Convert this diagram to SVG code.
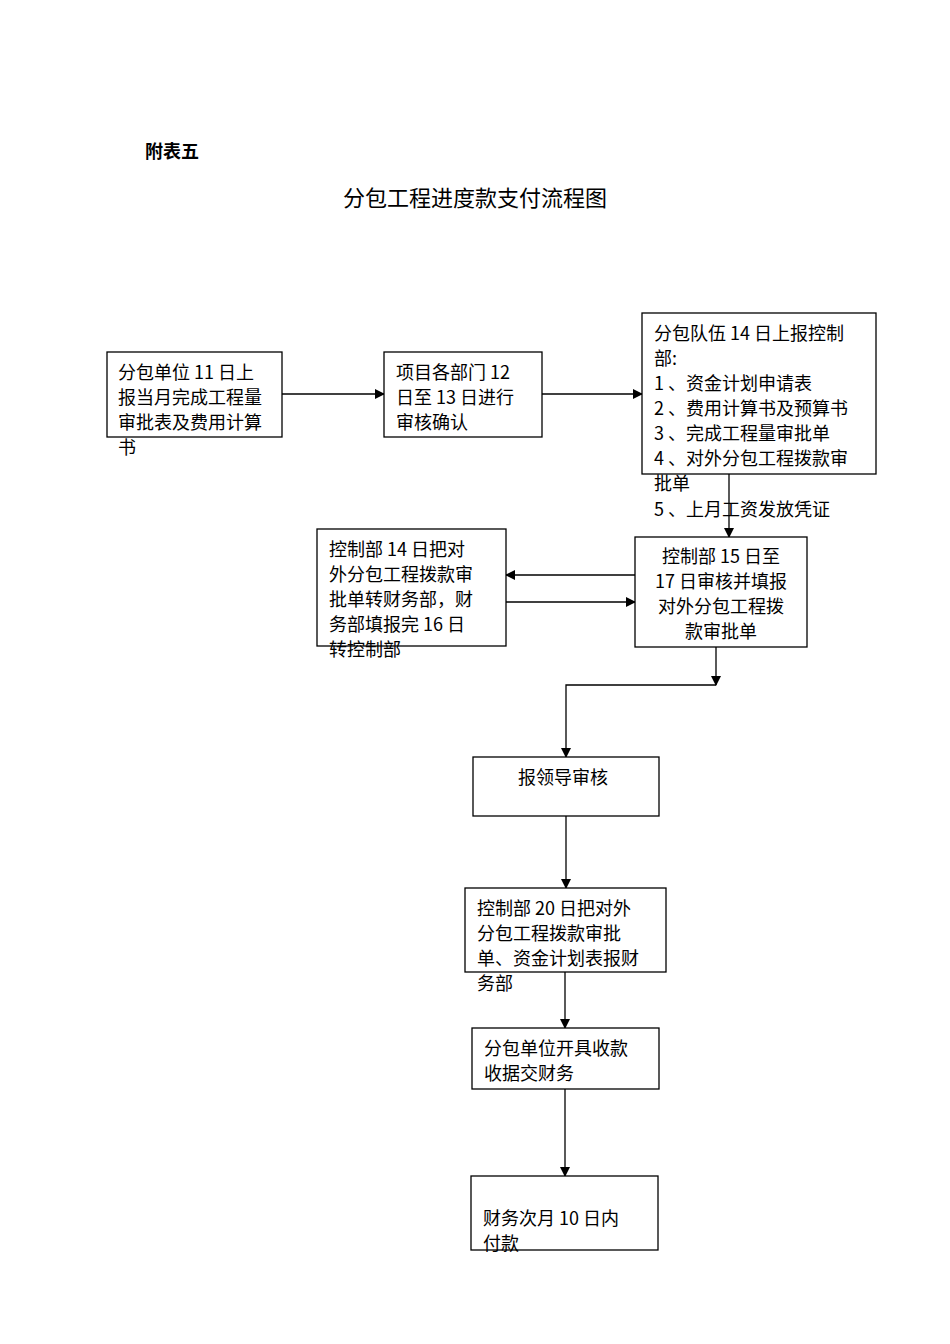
<svg xmlns="http://www.w3.org/2000/svg" width="950" height="1344" viewBox="0 0 950 1344">
<style>
text{font-family:"Noto Sans CJK SC","Noto Sans",sans-serif;font-size:18px;fill:#000}
.b{fill:#fff;stroke:#000;stroke-width:1.3}
.c{stroke:#000;stroke-width:1.3;fill:none}
</style>
<defs><marker id="a" markerWidth="10" markerHeight="10" refX="9" refY="5" orient="auto" markerUnits="userSpaceOnUse"><path d="M0,0 L10,5 L0,10 z" fill="#000"/></marker></defs>
<rect width="950" height="1344" fill="#fff"/>
<text x="145" y="158" font-weight="bold">附表五</text>
<text x="475" y="206" text-anchor="middle" style="font-size:22px;font-family:'Noto Sans CJK SC','Noto Serif CJK SC',serif">分包工程进度款支付流程图</text>
<g id="connectors">
<line class="c" x1="282" y1="394" x2="384" y2="394" marker-end="url(#a)"/>
<line class="c" x1="542" y1="394" x2="642" y2="394" marker-end="url(#a)"/>
<line class="c" x1="729" y1="474" x2="729" y2="537" marker-end="url(#a)"/>
<line class="c" x1="635" y1="575" x2="506" y2="575" marker-end="url(#a)"/>
<line class="c" x1="506" y1="602" x2="635" y2="602" marker-end="url(#a)"/>
<line class="c" x1="716" y1="647" x2="716" y2="685" marker-end="url(#a)"/>
<polyline class="c" points="716,685 566,685 566,757" marker-end="url(#a)"/>
<line class="c" x1="566" y1="816" x2="566" y2="888" marker-end="url(#a)"/>
<line class="c" x1="565" y1="972" x2="565" y2="1028" marker-end="url(#a)"/>
<line class="c" x1="565" y1="1089" x2="565" y2="1176" marker-end="url(#a)"/>
</g>
<g id="n1"><rect class="b" x="107" y="352" width="175" height="85"/>
<text x="118" y="379">分包单位 11 日上</text><text x="118" y="404">报当月完成工程量</text><text x="118" y="429">审批表及费用计算</text><text x="118" y="454">书</text></g>
<g id="n2"><rect class="b" x="384" y="352" width="158" height="85"/>
<text x="396" y="379">项目各部门 12</text><text x="396" y="404">日至 13 日进行</text><text x="396" y="429">审核确认</text></g>
<g id="n3"><rect class="b" x="642" y="313" width="234" height="161"/>
<text x="654" y="340">分包队伍 14 日上报控制</text><text x="654" y="365">部:</text><text x="654" y="390">1 、资金计划申请表</text><text x="654" y="415">2 、费用计算书及预算书</text><text x="654" y="440">3 、完成工程量审批单</text><text x="654" y="465">4 、对外分包工程拨款审</text><text x="654" y="490">批单</text><text x="654" y="516">5 、上月工资发放凭证</text></g>
<g id="n4"><rect class="b" x="317" y="529" width="189" height="117"/>
<text x="329" y="556">控制部 14 日把对</text><text x="329" y="581">外分包工程拨款审</text><text x="329" y="606">批单转财务部，财</text><text x="329" y="631">务部填报完 16 日</text><text x="329" y="656">转控制部</text></g>
<g id="n5"><rect class="b" x="635" y="537" width="172" height="110"/>
<g text-anchor="middle"><text x="721" y="563">控制部 15 日至</text><text x="721" y="588">17 日审核并填报</text><text x="721" y="613">对外分包工程拨</text><text x="721" y="638">款审批单</text></g></g>
<g id="n6"><rect class="b" x="473" y="757" width="186" height="59"/><text x="518" y="784">报领导审核</text></g>
<g id="n7"><rect class="b" x="465" y="888" width="201" height="84"/>
<text x="477" y="915">控制部 20 日把对外</text><text x="477" y="940">分包工程拨款审批</text><text x="477" y="965">单、资金计划表报财</text><text x="477" y="990">务部</text></g>
<g id="n8"><rect class="b" x="472" y="1028" width="187" height="61"/>
<text x="484" y="1055">分包单位开具收款</text><text x="484" y="1080">收据交财务</text></g>
<g id="n9"><rect class="b" x="471" y="1176" width="187" height="74"/>
<text x="483" y="1225">财务次月 10 日内</text><text x="483" y="1250">付款</text></g>
</svg>
